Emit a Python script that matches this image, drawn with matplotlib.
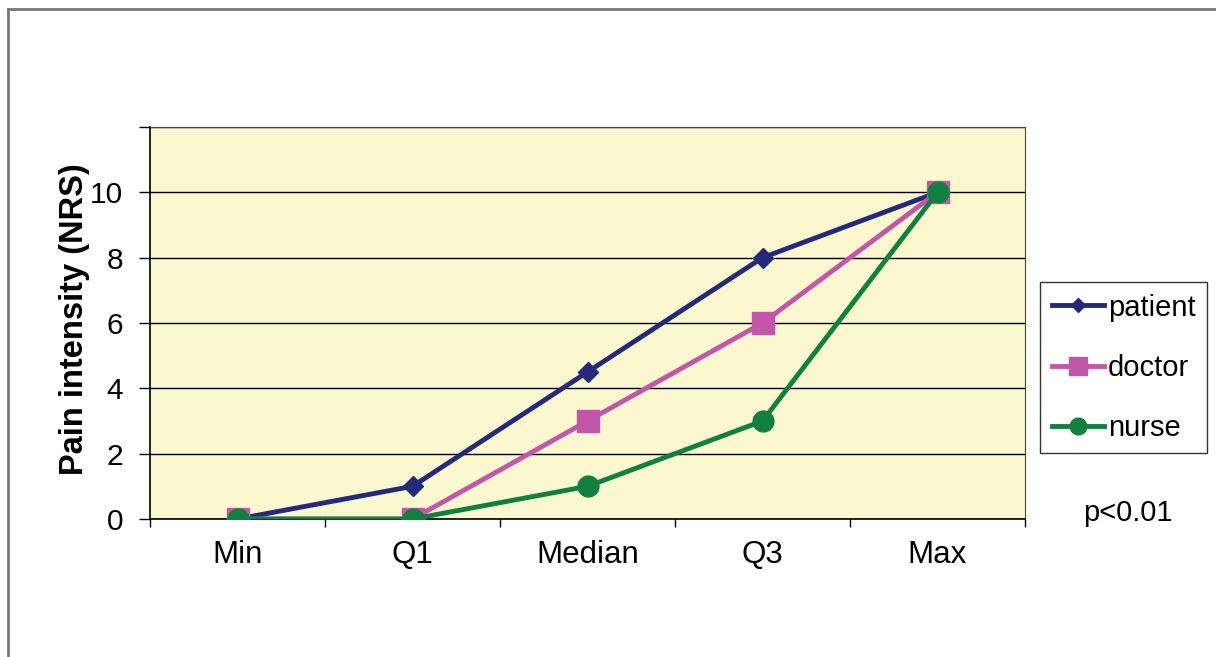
import matplotlib.pyplot as plt
from matplotlib.lines import Line2D

plt.rcParams['font.family'] = ['Liberation Sans', 'DejaVu Sans']

# data
categories = ['Min', 'Q1', 'Median', 'Q3', 'Max']
patient = [0, 1, 4.5, 8, 10]
doctor = [0, 0, 3, 6, 10]
nurse = [0, 0, 1, 3, 10]
y_ticks = [0, 2, 4, 6, 8, 10, 12]
y_labels = ['0', '2', '4', '6', '8', '10', '']

fig = plt.figure(figsize=(12.16, 6.57), dpi=100)
ax = fig.add_axes([150 / 1216, 1 - 519 / 657, 875 / 1216, 392 / 657])
ax.set_facecolor('#fbf8cf')

x = range(len(categories))
ax.plot(x, patient, color='#232a7c', lw=3.5, marker='D', ms=10.5, label='patient', zorder=3)
ax.plot(x, doctor, color='#c256a8', lw=3.5, marker='s', ms=15.5, label='doctor', zorder=4)
ax.plot(x, nurse, color='#10803f', lw=3.5, marker='o', ms=15, label='nurse', zorder=5)

ax.set_xlim(-0.5, 4.5)
ax.set_ylim(0, 12)
ax.set_xticks(list(x))
ax.set_xticklabels(categories, fontsize=22.5)
ax.set_xticks([i - 0.5 for i in range(len(categories) + 1)], minor=True)
ax.tick_params(axis='x', which='major', length=0, pad=15)
ax.tick_params(axis='x', which='minor', length=6, width=1, direction='out')
ax.set_yticks(y_ticks)
ax.set_yticklabels(y_labels, fontsize=21.5)
ax.tick_params(axis='y', length=8, width=1, direction='out', pad=11.5)
ax.grid(axis='y', color='black', lw=1)
ax.set_axisbelow(True)

for side in ['top', 'right']:
    ax.spines[side].set_color('#444444')
ax.spines['left'].set_linewidth(1.2)
ax.spines['bottom'].set_linewidth(1.2)

ax.set_ylabel('Pain intensity (NRS)', fontsize=23.5, fontweight='bold')
ax.yaxis.set_label_coords(-0.0686, 0.51)

leg = ax.legend(loc='upper left', bbox_to_anchor=(1040 / 1216, 1 - 282 / 657),
                bbox_transform=fig.transFigure, fontsize=21, frameon=True,
                fancybox=False, edgecolor='black', handlelength=1.8,
                handletextpad=0.12, labelspacing=1.1, borderpad=0.4,
                borderaxespad=0)
leg.get_frame().set_linewidth(1)
for h, s in zip(leg.legend_handles, [7, 13, 12]):
    h.set_markersize(s)

fig.text(1128 / 1216, 1 - 513 / 657, 'p<0.01', fontsize=21, ha='center', va='center')

# outer frame (left and top only)
fig.add_artist(Line2D([8 / 1216, 8 / 1216], [0, 1 - 9 / 657], color='#777777', lw=2))
fig.add_artist(Line2D([8 / 1216, 1], [1 - 9 / 657, 1 - 9 / 657], color='#777777', lw=2))

fig.savefig('out.png', dpi=100)
